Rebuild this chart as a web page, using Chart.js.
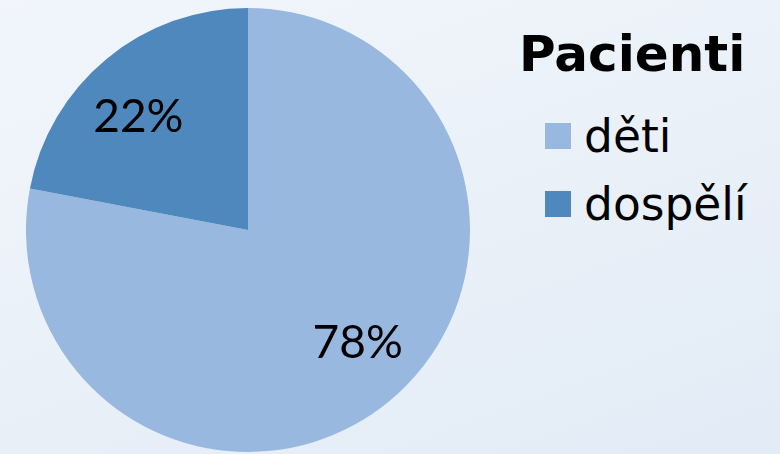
<!DOCTYPE html>
<html lang="cs">
<head>
  <meta charset="UTF-8" />
  <title>Pacienti</title>
  <script src="https://cdn.jsdelivr.net/npm/chart.js"></script>
  <style>
    html, body {
      margin: 0;
      width: 780px;
      height: 454px;
      overflow: hidden;
    }
    body {
      background: linear-gradient(160deg, #f2f6fb 0%, #e9f0f8 55%, #e2ebf6 100%);
      font-family: "DejaVu Sans", sans-serif;
      position: relative;
    }
    #obal {
      position: absolute;
      left: 0;
      top: 0;
      width: 496px;
      height: 454px;
    }
    #legenda {
      position: absolute;
      left: 519px;
      top: 29px;
      color: #000;
    }
    #legenda h2 {
      margin: 0 0 35px 0;
      font-size: 50px;
      font-weight: bold;
      line-height: 50px;
    }
    .polozka {
      display: flex;
      align-items: flex-start;
      font-size: 45.5px;
      line-height: 45px;
      height: 45px;
      margin: 0 0 23px 26px;
    }
    .polozka span.ctverec {
      width: 26px;
      height: 26px;
      margin: 9px 13px 0 0;
      display: inline-block;
    }
  </style>
</head>
<body>
  <div id="obal"><canvas id="graf"></canvas></div>
  <div id="legenda"></div>

  <script>
    const nazev = 'Pacienti';
    const kategorie = ['děti', 'dospělí'];
    const hodnoty = [78, 22];
    const barvy = ['#98b8df', '#4f88bd'];

    // legenda vedle grafu
    const legenda = document.getElementById('legenda');
    legenda.innerHTML = '<h2>' + nazev + '</h2>' + kategorie.map((k, i) =>
      '<div class="polozka"><span class="ctverec" style="background:' + barvy[i] + '"></span>' + k + '</div>'
    ).join('');

    // popisky procent uvnitr vysecí
    const popisky = {
      id: 'popisky',
      afterDatasetsDraw(chart) {
        const ctx = chart.ctx;
        const meta = chart.getDatasetMeta(0);
        ctx.save();
        ctx.font = '46px Lato, "Open Sans", sans-serif';
        ctx.fillStyle = '#000';
        ctx.textAlign = 'center';
        ctx.textBaseline = 'middle';
        meta.data.forEach((arc, i) => {
          const uhel = (arc.startAngle + arc.endAngle) / 2 - 4.5 * Math.PI / 180;
          const r = arc.outerRadius * 0.71;
          ctx.fillText(hodnoty[i] + '%', arc.x + Math.cos(uhel) * r, arc.y + Math.sin(uhel) * r);
        });
        ctx.restore();
      }
    };

    new Chart(document.getElementById('graf'), {
      type: 'pie',
      data: {
        labels: kategorie,
        datasets: [{
          data: hodnoty,
          backgroundColor: barvy,
          borderWidth: 0
        }]
      },
      options: {
        responsive: true,
        maintainAspectRatio: false,
        animation: false,
        layout: { padding: { top: 8, bottom: 2 } },
        plugins: {
          legend: { display: false },
          tooltip: { enabled: false }
        }
      },
      plugins: [popisky]
    });
  </script>
</body>
</html>
